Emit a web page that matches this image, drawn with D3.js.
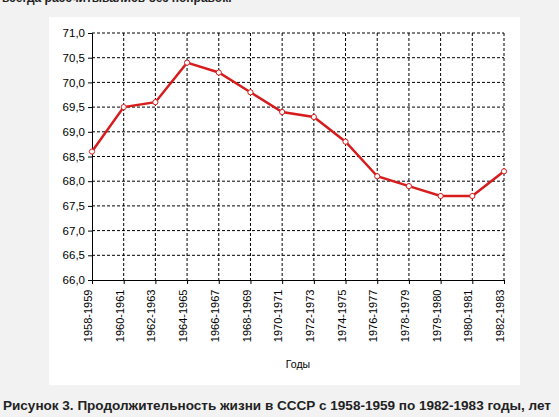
<!DOCTYPE html>
<html><head><meta charset="utf-8">
<script src="https://cdn.jsdelivr.net/npm/d3@7"></script>
<style>body{margin:0;background:#f2f2f2;font-family:"Liberation Sans",Arial,sans-serif}</style>
</head><body><svg width="559" height="417"></svg>
<script>
const periods = ["1958-1959","1960-1961","1962-1963","1964-1965","1966-1967","1968-1969","1970-1971","1972-1973","1974-1975","1976-1977","1978-1979","1979-1980","1980-1981","1982-1983"];
const lifeExpectancy = [68.6,69.5,69.6,70.4,70.2,69.8,69.4,69.3,68.8,68.1,67.9,67.7,67.7,68.2];
const yTicks = d3.range(66, 71.01, 0.5);

const svg = d3.select("svg");
svg.append("text").attr("x", 2).attr("y", 2).attr("font-size", 12).attr("font-weight", "bold")
  .attr("fill", "#222").text("всегда рассчитывались без поправок.");
svg.append("rect").attr("x", 49).attr("y", 17).attr("width", 471).attr("height", 368).attr("fill", "#fff");

const x = d3.scalePoint().domain(periods).range([92, 504]);
const y = d3.scaleLinear().domain([66, 71]).range([280, 33]);
const fmt = d => d.toFixed(1).replace(".", ",");

// grid
svg.append("g").selectAll("line").data(yTicks.slice(1)).enter().append("line")
  .attr("x1", 92).attr("x2", 504).attr("y1", d => y(d)).attr("y2", d => y(d))
  .attr("stroke", "#000").attr("stroke-dasharray", "3,2");
svg.append("g").selectAll("line").data(periods.slice(1)).enter().append("line")
  .attr("x1", d => x(d)).attr("x2", d => x(d)).attr("y1", 33).attr("y2", 280)
  .attr("stroke", "#000").attr("stroke-dasharray", "3,2");

const yAxis = svg.append("g").attr("transform", "translate(92,0)")
  .call(d3.axisLeft(y).tickValues(yTicks).tickFormat(fmt).tickSize(4));
yAxis.selectAll("text").attr("font-size", 11.5).attr("fill", "#000");
const xAxis = svg.append("g").attr("transform", "translate(0,280)")
  .call(d3.axisBottom(x).tickSize(4).tickSizeOuter(0));
xAxis.selectAll("text").attr("font-size", 11).attr("fill", "#000")
  .attr("transform", "rotate(-90)").attr("text-anchor", "end").attr("dx", "-0.6em").attr("dy", "-0.3em").attr("y", 0).attr("x", -3)
  .style("dominant-baseline", "middle");
svg.selectAll(".domain").attr("stroke", "#000");

svg.append("text").attr("x", 298).attr("y", 368).attr("text-anchor", "middle").attr("font-size", 10.5).text("Годы");

const line = d3.line().x((d, i) => x(periods[i])).y(d => y(d));
svg.append("path").datum(lifeExpectancy).attr("d", line).attr("fill", "none")
  .attr("stroke", "#d61c1c").attr("stroke-width", 2.5);
svg.selectAll(".pt").data(lifeExpectancy).enter().append("circle").attr("class", "pt")
  .attr("cx", (d, i) => x(periods[i])).attr("cy", d => y(d)).attr("r", 2.6)
  .attr("fill", "#fff").attr("stroke", "#d61c1c").attr("stroke-width", 1);

svg.append("text").attr("x", 3).attr("y", 410).attr("font-size", 13).attr("font-weight", "bold").attr("fill", "#222")
  .attr("textLength", 548).attr("lengthAdjust", "spacingAndGlyphs")
  .text("Рисунок 3. Продолжительность жизни в СССР с 1958-1959 по 1982-1983 годы, лет");
</script></body></html>
